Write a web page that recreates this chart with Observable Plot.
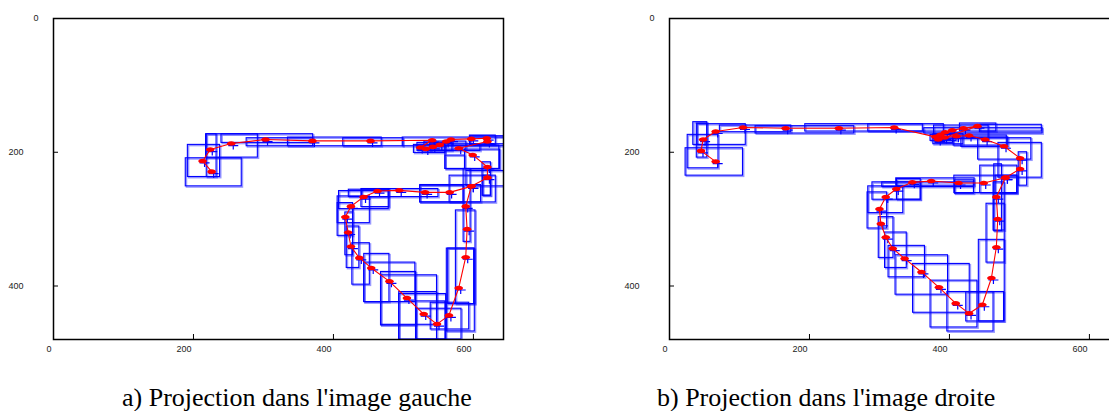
<!DOCTYPE html>
<html>
<head>
<meta charset="utf-8">
<script src="https://cdn.jsdelivr.net/npm/d3@7"></script>
<script src="https://cdn.jsdelivr.net/npm/@observablehq/plot@0.6"></script>
<style>
  body { margin: 0; background: white; overflow: hidden; }
  #wrap { position: relative; width: 1109px; height: 411px; overflow: hidden; background: white; }
  .panel { position: absolute; top: 0; width: 560px; height: 365px; }
  .panel svg { max-width: none !important; width: 560px; height: 365px; }
  .cap { position: absolute; top: 385px; font-family: 'Liberation Serif', 'Times New Roman', serif; font-size: 26px; line-height: 26px; white-space: nowrap; color: #000; }
</style>
</head>
<body>
<div id="wrap">
  <div id="left" class="panel" style="left:0px"></div>
  <div id="right" class="panel" style="left:616px"></div>
  <div class="cap" style="left:122px">a) Projection dans l'image gauche</div>
  <div class="cap" style="left:657px">b) Projection dans l'image droite</div>
</div>
<script>
// ---- data (image coordinates, pixels of the 640x480 camera image) ----
const xTicks = [0, 200, 400, 600];
const yTicksMain = [200, 400];
const yTicksTop = [0];

// left image: estimated trajectory [x, y]
const leftTrack = [
  [226,229],[213,213],[224,196],[254,187],[303,181],[370,183],[453,183],[541,182],
  [524,193],[532,195],[542,192],[552,189],[561,184],[568,181],[597,180],[619,179],[620,184],
  [579,194],[599,204],[620,222],[620,238],[597,251],[566,260],[531,260],[494,257],[463,258],
  [443,267],[425,281],[417,297],[421,320],[425,341],[437,358],[454,373],[480,393],[505,418],
  [529,442],[548,457],[565,444],[579,403],[589,357],[591,315],[589,281],[597,251]
];
// left image: search windows [x1, x2, y1, y2]
const leftBoxes = [
  [189,269,209,251],[192,238,189,237],[219,233,173,237],[218,292,173,208],[276,371,179,191],
  [240,371,173,186],[335,469,178,191],[414,500,179,191],[499,660,178,191],[596,660,176,188],
  [595,632,175,189],[560,637,190,225],[538,610,188,198],[560,588,205,225],[520,570,186,198],
  [515,560,189,201],[530,590,184,196],[588,638,196,225],[613,625,215,265],[586,596,225,334],
  [566,632,235,275],[614,625,235,265],[590,660,228,251],[524,611,249,275],[524,586,250,275],
  [441,550,255,267],[422,479,256,267],[440,480,255,282],[408,479,258,285],[406,452,266,306],
  [406,428,276,325],[417,428,290,354],[419,437,311,373],[427,452,336,398],[444,480,352,424],
  [444,517,365,424],[468,518,379,459],[468,548,384,458],[494,548,409,481],[494,561,412,480],
  [518,560,423,481],[519,583,434,480],[539,594,425,465],[564,601,344,427],[562,602,344,468],
  [575,603,287,427]
];

// right image: estimated trajectory [x, y]
const rightTrack = [
  [66,214],[45,198],[48,181],[66,169],[105,163],[166,164],[242,164],[321,163],
  [380,177],[384,181],[387,174],[394,170],[404,167],[420,164],[440,161],[393,178],[410,176],
  [428,175],[451,181],[478,191],[501,209],[501,225],[480,238],[449,246],[413,246],[374,243],
  [347,245],[324,255],[309,267],[300,285],[302,307],[309,327],[319,344],[336,359],[360,379],
  [385,402],[409,426],[428,441],[447,428],[460,388],[467,342],[469,300],[467,267],[480,238]
];
// right image: search windows [x1, x2, y1, y2]
const rightBoxes = [
  [23,105,194,235],[26,70,174,224],[34,54,155,189],[40,109,158,189],[39,54,157,208],
  [72,174,160,170],[123,264,161,172],[194,362,158,169],[284,392,158,169],[415,467,157,169],
  [444,532,159,169],[364,533,164,172],[378,456,160,180],[406,482,175,190],[377,420,173,188],
  [373,410,174,183],[380,405,178,186],[417,484,178,192],[441,517,179,211],[470,532,186,238],
  [499,511,200,250],[444,497,220,261],[464,475,218,318],[407,497,235,261],[466,497,235,262],
  [408,435,242,262],[324,436,239,250],[304,435,245,252],[325,359,240,271],[290,359,245,271],
  [284,334,251,291],[283,311,260,314],[299,320,297,358],[308,339,320,373],[313,365,340,387],
  [323,398,354,413],[348,429,367,440],[373,440,392,462],[397,463,409,468],[424,478,409,453],
  [442,479,331,453],[453,479,277,365],[463,479,245,317]
];

// ---- symbols ----
const ellipseSym = {
  draw(ctx) {
    const rx = 4.3, ry = 2.3, k = 0.5523;
    ctx.moveTo(rx, 0);
    ctx.bezierCurveTo(rx, ry * k, rx * k, ry, 0, ry);
    ctx.bezierCurveTo(-rx * k, ry, -rx, ry * k, -rx, 0);
    ctx.bezierCurveTo(-rx, -ry * k, -rx * k, -ry, 0, -ry);
    ctx.bezierCurveTo(rx * k, -ry, rx, -ry * k, rx, 0);
    ctx.closePath();
  }
};
const plusSym = {
  draw(ctx) {
    ctx.moveTo(-5, 0); ctx.lineTo(5, 0);
    ctx.moveTo(0, -3); ctx.lineTo(0, 4);
  }
};

function panel(track, boxes) {
  const bx = {x1: d => d[0], x2: d => d[1], y1: d => d[2], y2: d => d[3]};
  const px = {x: d => d[0], y: d => d[1]};
  return Plot.plot({
    width: 560, height: 365,
    marginLeft: 53, marginRight: 57, marginTop: 18, marginBottom: 26,
    x: {domain: [0, 643]},
    y: {domain: [0, 480], reverse: true},
    style: {fontFamily: "'Liberation Sans', Arial, sans-serif", fontSize: "9px", color: "#222", background: "white", maxWidth: "none"},
    marks: [
      Plot.rect(boxes, {...bx, fill: "none", stroke: "#0000ff", strokeOpacity: 0.4, strokeWidth: 1.5, dx: 1.2, dy: 1.2, clip: true}),
      Plot.rect(boxes, {...bx, fill: "none", stroke: "#0000ff", strokeWidth: 1.1, clip: true}),
      Plot.dot(track, {...px, symbol: plusSym, fill: "none", stroke: "#0000ff", strokeWidth: 1.2, dx: 2, dy: 2}),
      Plot.line(track, {...px, stroke: "#ff0000", strokeWidth: 1.1}),
      Plot.dot(track, {...px, symbol: ellipseSym, fill: "#ff0000", stroke: "none"}),
      Plot.frame({stroke: "#000", strokeWidth: 1.5}),
      Plot.tickX(xTicks.slice(1), {stroke: "#000", insetTop: 316}),
      Plot.tickY(yTicksMain, {stroke: "#000", insetRight: 445}),
      Plot.axisX(xTicks, {tickSize: 0, tickPadding: 6, textAnchor: "end", dx: -2}),
      Plot.axisY(yTicksMain, {tickSize: 0, tickPadding: 30}),
      Plot.axisY(yTicksTop, {tickSize: 0, tickPadding: 15})
    ]
  });
}

document.getElementById("left").append(panel(leftTrack, leftBoxes));
document.getElementById("right").append(panel(rightTrack, rightBoxes));
</script>
</body>
</html>
